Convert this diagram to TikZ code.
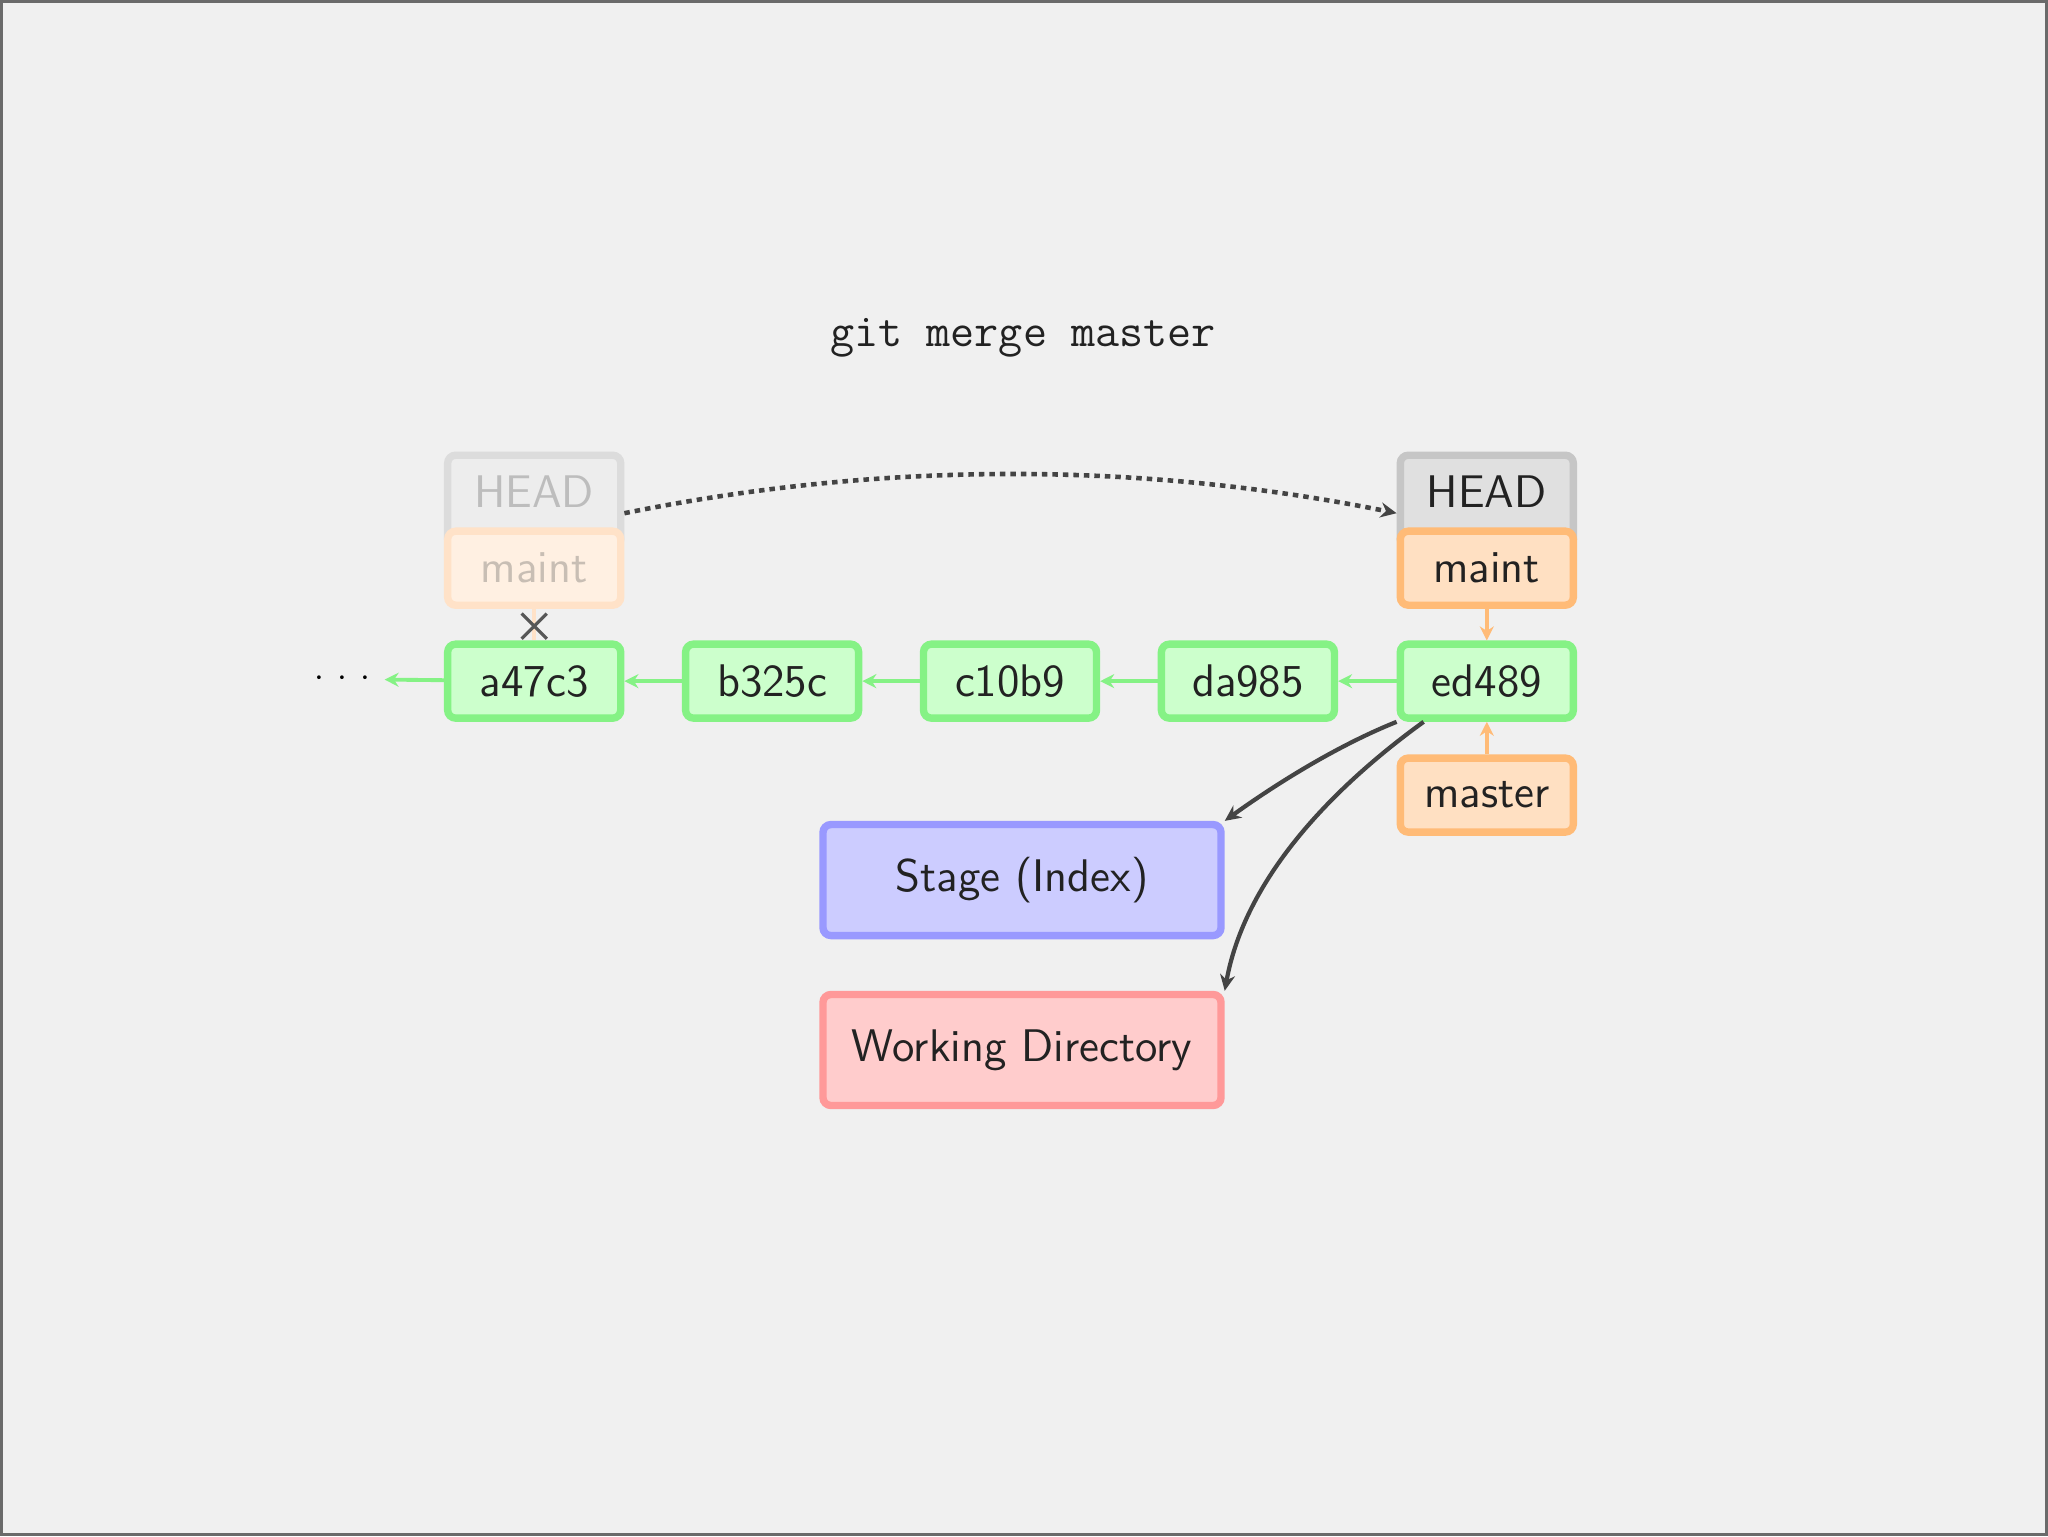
\documentclass[tikz,border=0pt]{standalone}
\usetikzlibrary{arrows.meta,shapes.misc}
\definecolor{bg}{HTML}{F0F0F0}
\definecolor{frame}{HTML}{6A6A6A}
\definecolor{txt}{HTML}{222222}
\definecolor{gfill}{HTML}{CCFFCC}
\definecolor{gline}{HTML}{85F285}
\definecolor{ofill}{HTML}{FFE0C2}
\definecolor{oline}{HTML}{FFBB77}
\definecolor{hfill}{HTML}{E0E0E0}
\definecolor{hline}{HTML}{C6C6C6}
\definecolor{sfill}{HTML}{CCCCFF}
\definecolor{sline}{HTML}{9999FF}
\definecolor{wfill}{HTML}{FFCCCC}
\definecolor{wline}{HTML}{FF9999}
\definecolor{ohfill}{HTML}{EDEDED}
\definecolor{ohline}{HTML}{DCDCDC}
\definecolor{ohtext}{HTML}{BDBDBD}
\definecolor{omfill}{HTML}{FFF0E2}
\definecolor{omline}{HTML}{FFE2C8}
\definecolor{omtext}{HTML}{C8BEB4}
\definecolor{dark}{HTML}{444444}
\begin{document}
\begin{tikzpicture}[x=0.01cm,y=-0.01cm,
  box/.style={draw, rounded corners=0.08cm, line width=2.1pt, text=txt, inner sep=0pt,
    font=\sffamily\fontsize{13}{15}\selectfont},
  commit/.style={box, fill=gfill, draw=gline, minimum width=1.73cm, minimum height=0.74cm},
  branch/.style={box, fill=ofill, draw=oline, minimum width=1.73cm, minimum height=0.74cm},
  headbox/.style={box, fill=hfill, draw=hline, minimum width=1.73cm, minimum height=0.92cm,
    text height=0.35cm, text depth=0.23cm},
  oldhead/.style={headbox, fill=ohfill, draw=ohline, text=ohtext},
  oldbranch/.style={branch, fill=omfill, draw=omline, text=omtext},
  area/.style={box, minimum width=3.98cm, minimum height=1.11cm},
  garrow/.style={draw=gline, line width=1.1pt, -{Stealth[length=0.14cm,width=0.14cm]}},
  oarrow/.style={draw=oline, line width=1.1pt, -{Stealth[length=0.14cm,width=0.14cm]}},
  darrow/.style={draw=dark, line width=1.2pt, -{Stealth[length=0.16cm,width=0.15cm]}},
  dasharrow/.style={draw=dark, line width=1.3pt, dash pattern=on 0.055cm off 0.05cm,
    -{Stealth[length=0.16cm,width=0.15cm]}}
]
% background
\fill[bg] (0,0) rectangle (2048,1536);
\draw[frame, line width=0.8pt] (1,1) rectangle (2047,1535);
\useasboundingbox (0,0) rectangle (2048,1536);

% title
\node[font=\ttfamily\fontsize{13.3}{15}\selectfont, text=txt] (title) at (1023,338) {git merge master};

% commits
\node[commit] (a47c3) at (534,681) {a47c3};
\node[commit] (b325c) at (772,681) {b325c};
\node[commit] (c10b9) at (1010,681) {c10b9};
\node[commit] (da985) at (1248,681) {da985};
\node[commit] (ed489) at (1487,681) {ed489};
\node[text=black, inner sep=0pt] (dots) at (342,679) {$\cdot$\hspace{0.13cm}$\cdot$\hspace{0.13cm}$\cdot$};

% old HEAD / maint (faded)
\node[oldhead] (oldhd) at (534,501) {HEAD};
\node[oldbranch] (oldmaint) at (534,568) {maint};

% new HEAD / maint
\node[headbox] (head) at (1487,501) {HEAD};
\node[branch] (maint) at (1487,568) {maint};
\node[branch] (master) at (1487,795) {master};

% areas
\node[area, fill=sfill, draw=sline] (stage) at (1022,880) {Stage (Index)};
\node[area, fill=wfill, draw=wline] (wd) at (1022,1050) {Working Directory};

% commit chain
\draw[garrow] (ed489) -- (da985);
\draw[garrow] (da985) -- (c10b9);
\draw[garrow] (c10b9) -- (b325c);
\draw[garrow] (b325c) -- (a47c3);
\draw[garrow, shorten >=0.14cm] (a47c3) -- (dots);

% branch pointers
\draw[oarrow] (maint) -- (ed489);
\draw[oarrow] (master) -- (ed489);
\draw[draw=omline, line width=1.1pt] (oldmaint) -- (a47c3);
\node[cross out, draw=dark!90, line width=0.9pt, minimum size=0.22cm, inner sep=0pt] (cross) at (534,626) {};

% HEAD move
\draw[dasharrow] ([yshift=-0.12cm]oldhd.east) .. controls +(256,-52) and +(-257,-52) .. ([yshift=-0.12cm]head.west);

% checkout into stage and working directory
\draw[darrow] (ed489.south west) .. controls +(-60,24) and +(50,-36) .. (stage.north east);
\draw[darrow] ([xshift=0.27cm]ed489.south west) .. controls +(-94,68) and +(20,-111) .. (wd.north east);
\end{tikzpicture}
\end{document}
